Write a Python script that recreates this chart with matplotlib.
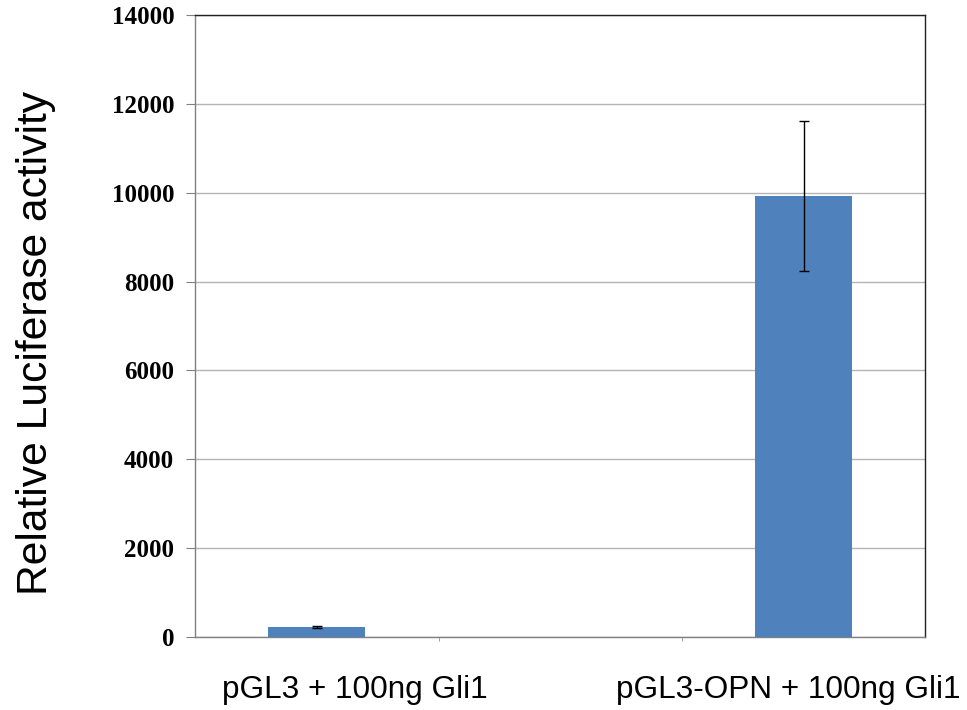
import numpy as np
import matplotlib
matplotlib.use("Agg")
import matplotlib.pyplot as plt

# data
categories = ["pGL3 + 100ng Gli1", "", "pGL3-OPN + 100ng Gli1"]
values = [225, np.nan, 9930]
errors = [30, np.nan, 1690]
yticks = [0, 2000, 4000, 6000, 8000, 10000, 12000, 14000]

fig = plt.figure(figsize=(9.67, 7.10), dpi=100)
ax = fig.add_axes([0.2017, 0.1028, 0.7553, 0.8761])

x = np.arange(len(categories))
ax.bar(x, values, width=0.4, color="#4F81BD", zorder=3)
ax.errorbar(x, values, yerr=errors, fmt="none", ecolor="black",
            elinewidth=1, capsize=3.3, capthick=1, zorder=4)

ax.set_xlim(-0.5, len(categories) - 0.5)
ax.set_ylim(0, 14000)
ax.set_yticks(yticks)
ax.set_yticklabels([str(t) for t in yticks], family="Liberation Serif",
                   fontweight="bold", fontsize=18)
ax.yaxis.grid(True, color="#b4b4b4", linewidth=1, zorder=0)
ax.tick_params(axis="y", direction="out", length=6.5, color="#808080", pad=8.5)

# category boundaries as ticks, labels placed on their own
ax.set_xticks(np.arange(len(categories) - 1) + 0.5, minor=True)
ax.tick_params(axis="x", which="minor", direction="out", length=3, color="#909090")
lab_pos = [0.157, 1.937]
ax.set_xticks(lab_pos)
ax.set_xticklabels([c for c in categories if c], family="Liberation Sans",
                   fontsize=22.7)
ax.tick_params(axis="x", which="major", length=0, pad=27.5)

for s in ["left", "bottom"]:
    ax.spines[s].set_color("#808080")
for s in ["top", "right"]:
    ax.spines[s].set_color("#202020")
for s in ax.spines.values():
    s.set_linewidth(1)

fig.text(0.037, 0.5176, "Relative Luciferase activity", rotation=90,
         family="Liberation Sans", fontsize=30.7, ha="center", va="center")

fig.savefig("out.png", dpi=100)
